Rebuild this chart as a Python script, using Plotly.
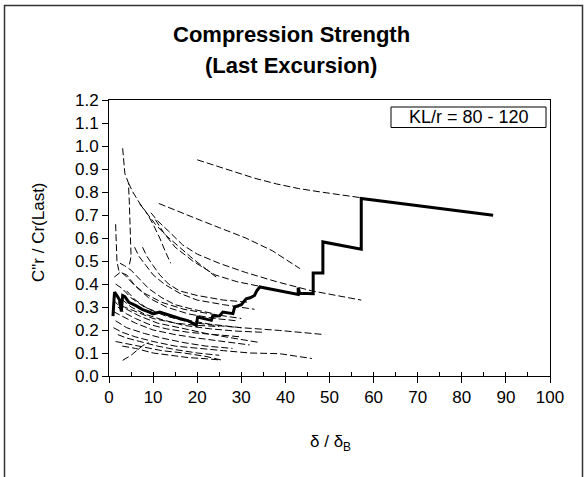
import plotly.graph_objects as go

# ---- data ----
x_ticks = [0, 10, 20, 30, 40, 50, 60, 70, 80, 90, 100]
y_ticks = [0.0, 0.1, 0.2, 0.3, 0.4, 0.5, 0.6, 0.7, 0.8, 0.9, 1.0, 1.1, 1.2]

# thick "last excursion" envelope (x, y)
main_x = [0.9, 1.25, 1.8, 2.4, 2.8, 3.1, 3.6, 4.5, 6.2, 7.5, 9.2, 10, 11.5, 13.7, 16, 18, 19.8,
          20.1, 23.2, 23.5, 25.1, 25.8, 28.1, 28.5, 30, 31.1, 32, 33, 33.5, 34.2, 38.7, 42.9,
          42.9, 43.2, 46.3, 46.3, 48.5, 48.5, 57.2, 57.2, 87.1]
main_y = [0.26, 0.365, 0.35, 0.33, 0.28, 0.35, 0.345, 0.32, 0.305, 0.29, 0.278, 0.27, 0.278,
          0.263, 0.25, 0.24, 0.22, 0.256, 0.242, 0.26, 0.262, 0.278, 0.271, 0.30, 0.31, 0.336,
          0.34, 0.35, 0.37, 0.387, 0.372, 0.355, 0.384, 0.36, 0.358, 0.448, 0.448, 0.583,
          0.551, 0.772, 0.699]

# individual specimen curves (dashed)
c01 = [(20, 0.94), (24, 0.915), (28, 0.89), (33, 0.86), (38, 0.835), (43, 0.815), (48, 0.80), (53, 0.787), (57.2, 0.775)]
c02 = [(11.3, 0.75), (14, 0.73), (17, 0.705), (21, 0.675), (25, 0.645), (31, 0.60), (37, 0.545), (43.3, 0.467)]
c03 = [(3.1, 0.99), (3.4, 0.93), (3.6, 0.88), (4.0, 0.86), (4.4, 0.84), (4.6, 0.76), (4.8, 0.64), (5.0, 0.52), (4.6, 0.48)]
c04 = [(4.4, 0.84), (5.4, 0.80), (7, 0.75), (8.5, 0.71), (10, 0.66), (11.5, 0.60), (12.8, 0.54), (14, 0.49)]
c05 = [(6.9, 0.75), (8.5, 0.71), (10.5, 0.66), (13, 0.61), (16, 0.56), (19, 0.51), (22, 0.465), (24.3, 0.43)]
c06 = [(9.5, 0.71), (11, 0.675), (13.5, 0.63), (16.7, 0.57), (20, 0.53), (25, 0.49), (31, 0.45), (38, 0.41), (46, 0.37), (57.2, 0.33)]
c07 = [(10.5, 0.68), (12.5, 0.62), (15, 0.56), (19, 0.50), (24, 0.44), (29, 0.41), (34.2, 0.39)]
c08 = [(1.5, 0.66), (1.6, 0.58), (1.8, 0.50), (2.2, 0.46), (3.5, 0.44), (5.5, 0.40), (8, 0.36), (12, 0.32), (17, 0.29), (23, 0.27), (30, 0.25)]
c09 = [(5.8, 0.56), (6.8, 0.52), (8.4, 0.48), (10, 0.44), (12.5, 0.40), (16, 0.36), (20, 0.33), (26, 0.31), (33, 0.29)]
c10 = [(7.6, 0.56), (8.6, 0.52), (10, 0.48), (11.5, 0.44), (13.5, 0.40), (16, 0.37), (20, 0.35), (26, 0.33), (32, 0.32)]
c11 = [(2.5, 0.49), (3.5, 0.48), (5, 0.46), (7, 0.42), (9, 0.38), (12, 0.34), (15, 0.31), (19, 0.29), (24, 0.27)]
c12 = [(1.2, 0.43), (2.5, 0.45), (4, 0.44), (6, 0.39), (9, 0.34), (13, 0.30), (18, 0.27), (24, 0.25), (29, 0.24)]
c13 = [(1.5, 0.40), (3, 0.38), (5, 0.34), (8, 0.30), (12, 0.27), (17, 0.245), (23, 0.225), (30, 0.21), (38.7, 0.198), (48.9, 0.18)]
c14 = [(1, 0.36), (2.5, 0.34), (5, 0.30), (8, 0.27), (12, 0.245), (17, 0.22), (23, 0.205), (29, 0.195), (35, 0.19)]
c15 = [(2, 0.32), (4, 0.29), (7, 0.26), (11, 0.23), (16, 0.21), (22, 0.185), (28, 0.165), (33.7, 0.147)]
c16 = [(1, 0.28), (3, 0.26), (6, 0.23), (10, 0.20), (15, 0.18), (20, 0.165), (26, 0.15), (31.9, 0.135)]
c17 = [(1.5, 0.24), (4, 0.21), (8, 0.185), (12, 0.165), (17, 0.145), (22, 0.13), (28, 0.12)]
c18 = [(1, 0.21), (3, 0.19), (6, 0.17), (10, 0.15), (15, 0.13), (20, 0.12), (26, 0.11), (32, 0.10), (38.7, 0.097), (46, 0.076)]
c19 = [(2, 0.18), (4, 0.165), (7, 0.15), (11, 0.13), (15, 0.115), (20, 0.10), (25, 0.09)]
c20 = [(1.5, 0.15), (4, 0.14), (8, 0.125), (12, 0.11), (17, 0.10), (22, 0.085), (25.8, 0.068)]
c21 = [(3.1, 0.068), (5, 0.09), (7.7, 0.133), (9, 0.145)]
c22 = [(3, 0.13), (6, 0.12), (10, 0.10), (14, 0.09), (18, 0.08), (22, 0.075), (25, 0.07)]
c23 = [(2, 0.30), (4, 0.27), (6, 0.25), (9, 0.225), (13, 0.205), (18, 0.19), (24, 0.18), (30, 0.17)]
c24 = [(1, 0.33), (2, 0.31), (3.5, 0.30), (6, 0.28), (10, 0.25), (15, 0.23), (20, 0.22), (25, 0.215)]
c25 = [(4, 0.37), (6, 0.33), (9, 0.29), (13, 0.26), (18, 0.235), (24, 0.22), (30, 0.21)]
dashed_curves = [c01, c02, c03, c04, c05, c06, c07, c08, c09, c10, c11, c12, c13,
                 c14, c15, c16, c17, c18, c19, c20, c21, c22, c23, c24, c25]

title_lines = ["Compression Strength", "(Last Excursion)"]
box_label = "KL/r = 80 - 120"
y_title = "C\"r / Cr(Last)"
x_title = "δ / δ<sub>B</sub>"

# ---- figure ----
W, H = 587, 477
L, R, T, B = 109, 37, 100, 101
pw, ph = W - L - R, H - T - B


def px(xp):
    return (xp - L) / pw


def py(yp):
    return (H - B - yp) / ph


FONT = "Liberation Sans, Arial, sans-serif"
fig = go.Figure()

for c in dashed_curves:
    fig.add_trace(go.Scatter(x=[p[0] for p in c], y=[p[1] for p in c], mode="lines",
                             line=dict(color="black", width=1, dash="7px,3px"),
                             showlegend=False, hoverinfo="skip"))

fig.add_trace(go.Scatter(x=main_x, y=main_y, mode="lines",
                         line=dict(color="black", width=3), showlegend=False))

# invisible trace for the minor-tick overlay axis
fig.add_trace(go.Scatter(x=[0], y=[0], xaxis="x2", mode="markers",
                         marker=dict(opacity=0), showlegend=False, hoverinfo="skip"))

fig.update_layout(
    width=W, height=H, margin=dict(l=L, r=R, t=T, b=B),
    paper_bgcolor="white", plot_bgcolor="white",
    font=dict(family=FONT, color="black", size=17),
    xaxis=dict(range=[0, 100], tickvals=x_ticks, ticks="outside", ticklen=6,
               tickcolor="black", showline=True, linecolor="black", linewidth=1,
               mirror=True, showgrid=False, zeroline=False,
               tickfont=dict(size=17, family=FONT)),
    xaxis2=dict(range=[0, 100], overlaying="x", anchor="y", side="bottom",
                dtick=5, ticks="inside", ticklen=4, tickcolor="black",
                showticklabels=False, showgrid=False, zeroline=False, showline=False),
    yaxis=dict(range=[0, 1.2], tickvals=y_ticks, ticktext=[f"{v:.1f}" for v in y_ticks],
               ticks="outside", ticklen=6, tickcolor="black", showline=True,
               linecolor="black", linewidth=1, mirror=True, showgrid=False,
               zeroline=False, tickfont=dict(size=17, family=FONT)),
)

# outer chart-area frame
fig.add_shape(type="rect", xref="paper", yref="paper",
              x0=px(4.5), x1=px(582.5), y0=py(485), y1=py(5.5),
              line=dict(color="#333333", width=1.5), layer="below")

# legend-like label box
fig.add_shape(type="rect", xref="paper", yref="paper",
              x0=px(391), x1=px(546), y0=py(127.5), y1=py(107),
              line=dict(color="black", width=1))


def label(text, xp, yp, size, angle=0):
    fig.add_annotation(text=text, xref="paper", yref="paper", x=px(xp), y=py(yp),
                       xanchor="center", yanchor="middle", textangle=angle,
                       showarrow=False, font=dict(size=size, family=FONT, color="black"))


label(box_label, 468.5, 117.5, 18)
label(f"<b>{title_lines[0]}</b>", 291, 34, 22)
label(f"<b>{title_lines[1]}</b>", 291, 66, 22)
label(y_title, 38, 232, 17, angle=-90)
label(x_title, 330, 443, 17)

fig.write_html("out.html")
